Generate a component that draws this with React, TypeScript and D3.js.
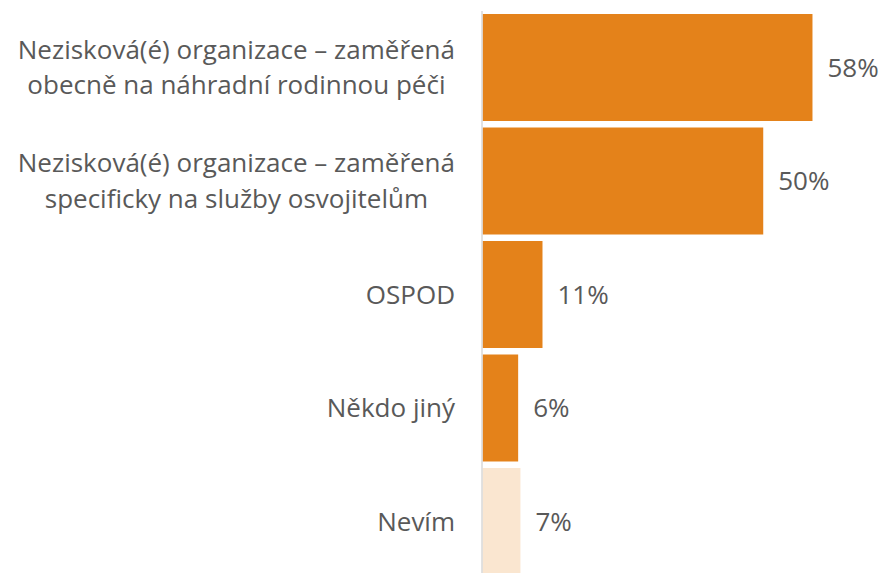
import React, { useEffect, useRef } from "react";
import * as d3 from "d3";

const categories: string[][] = [
  ["Nezisková(é) organizace – zaměřená", "obecně na náhradní rodinnou péči"],
  ["Nezisková(é) organizace – zaměřená", "specificky na služby osvojitelům"],
  ["OSPOD"],
  ["Někdo jiný"],
  ["Nevím"],
];
const values: number[] = [58.3, 49.6, 10.6, 6.3, 6.7];
const labels: string[] = ["58%", "50%", "11%", "6%", "7%"];
const colors: string[] = ["#E4821A", "#E4821A", "#E4821A", "#E4821A", "#FAE6D0"];

const W = 881;
const H = 573;
const FONT = "'Open Sans', 'Noto Sans', sans-serif";
const FS = 26;

export default function App() {
  const ref = useRef<SVGSVGElement | null>(null);
  useEffect(() => {
    const svg = d3.select(ref.current);
    svg.selectAll("*").remove();
    const ids = categories.map((_, i) => String(i));
    const y = d3
      .scaleBand<string>()
      .domain(ids)
      .range([10.75, 578.25])
      .paddingInner(0.0573)
      .paddingOuter(0.0287);
    const x = d3.scaleLinear().domain([0, 60]).range([482.5, 482.5 + 60 * 5.66]);

    svg
      .append("g")
      .selectAll("rect")
      .data(values)
      .join("rect")
      .attr("x", x(0))
      .attr("y", (_, i) => y(ids[i])!)
      .attr("width", (d) => x(d) - x(0))
      .attr("height", y.bandwidth())
      .attr("fill", (_, i) => colors[i]);

    svg
      .append("line")
      .attr("x1", 482)
      .attr("x2", 482)
      .attr("y1", 11)
      .attr("y2", H)
      .attr("stroke", "#D9D9D9")
      .attr("stroke-width", 1.5);

    svg
      .append("g")
      .selectAll("text")
      .data(values)
      .join("text")
      .attr("x", (d) => x(d) + 15)
      .attr("y", (_, i) => y(ids[i])! + y.bandwidth() / 2)
      .attr("dy", "0.35em")
      .attr("font-family", FONT)
      .attr("font-size", FS)
      .attr("fill", "#595959")
      .text((_, i) => labels[i]);

    const right = 455;
    const lineH = 35.5;
    categories.forEach((lines, i) => {
      const cy = y(ids[i])! + y.bandwidth() / 2;
      const g = svg.append("g");
      const texts = lines.map((ln, j) =>
        g
          .append("text")
          .attr("y", cy + (j - (lines.length - 1) / 2) * lineH)
          .attr("dy", "0.35em")
          .attr("font-family", FONT)
          .attr("font-size", FS)
          .attr("fill", "#595959")
          .attr("text-anchor", "middle")
          .text(ln)
      );
      const widths = texts.map((t) => (t.node() as SVGTextElement).getComputedTextLength());
      const maxW = Math.max(...widths);
      texts.forEach((t) => t.attr("x", right - maxW / 2));
    });
  }, []);
  return (
    <svg
      ref={ref}
      width={W}
      height={H}
      style={{ position: "absolute", left: 0, top: 0, background: "#fff" }}
    />
  );
}
